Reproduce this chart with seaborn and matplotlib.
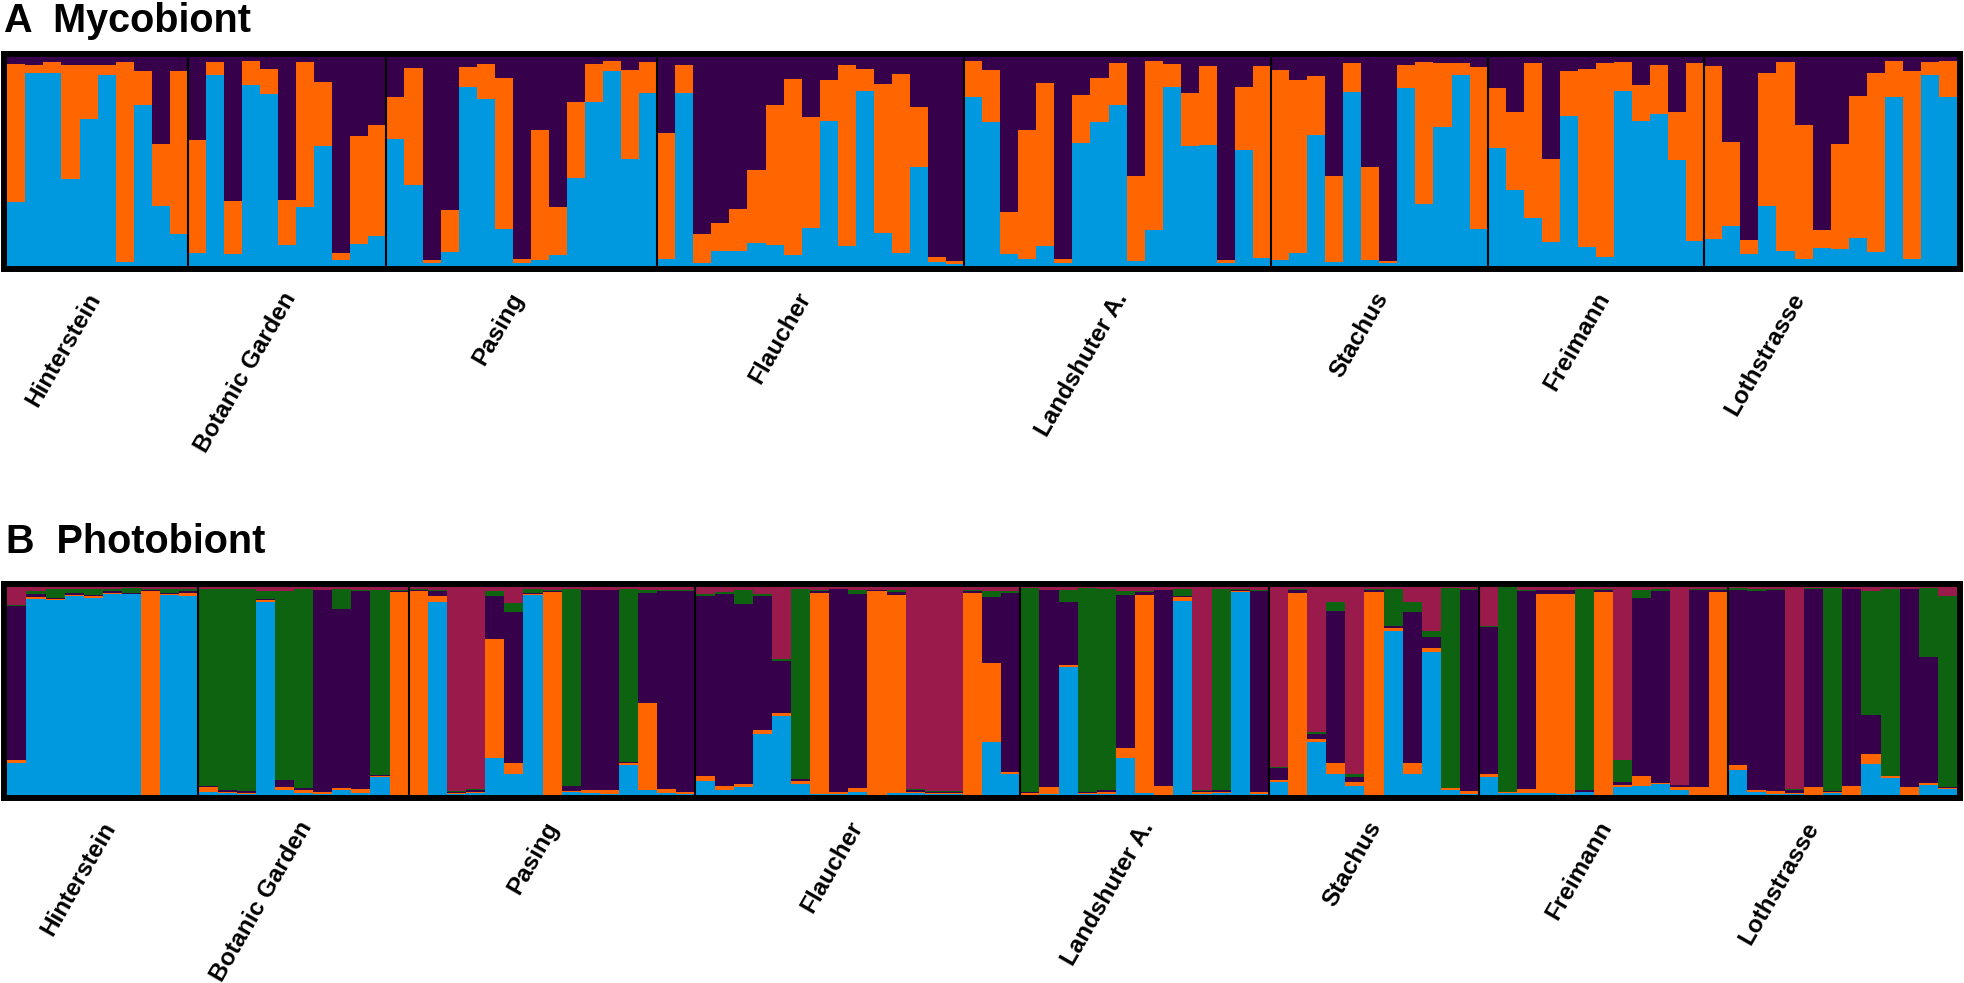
import numpy as np
import pandas as pd
import matplotlib
matplotlib.use("Agg")
import matplotlib.pyplot as plt
import seaborn as sns

# populations (same order in both panels)
populations = ["Hinterstein", "Botanic Garden", "Pasing", "Flaucher",
               "Landshuter A.", "Stachus", "Freimann", "Lothstrasse"]

# --- A: Mycobiont, K=3 (bottom -> top: blue, orange, purple)
myco_counts = [10, 11, 15, 17, 17, 12, 12, 14]
myco_blue = [
    .307, .923, .923, .417, .703, .912, .020, .772, .289, .155,
    .064, .914, .058, .866, .824, .102, .283, .572, .027, .105, .144,
    .610, .387, .013, .067, .855, .800, .176, .016, .027, .051, .423, .783, .933, .513, .827,
    .034, .827, .016, .073, .073, .109, .100, .054, .184, .695, .096, .839, .160, .061, .473, .019, .011,
    .808, .687, .059, .035, .097, .016, .588, .687, .768, .022, .174, .855, .572, .577, .013, .553, .038,
    .029, .062, .625, .021, .831, .027, .013, .853, .296, .665, .912, .176,
    .565, .366, .232, .115, .720, .089, .045, .837, .692, .728, .508, .118,
    .128, .193, .059, .289, .073, .034, .086, .081, .133, .069, .807, .035, .915, .808]
myco_orange = [
    .660, .040, .053, .545, .260, .050, .955, .160, .297, .776,
    .537, .062, .252, .113, .118, .213, .693, .307, .035, .516, .533,
    .200, .559, .014, .201, .097, .165, .723, .018, .623, .230, .360, .184, .046, .425, .148,
    .600, .133, .137, .134, .200, .348, .668, .839, .527, .193, .864, .104, .709, .860, .286, .026, .014,
    .174, .252, .201, .618, .777, .018, .228, .212, .205, .407, .805, .112, .256, .382, .014, .303, .920,
    .907, .830, .286, .412, .142, .449, .013, .109, .681, .305, .059, .778,
    .288, .372, .738, .399, .213, .856, .925, .141, .176, .232, .228, .853,
    .829, .399, .067, .633, .903, .639, .085, .502, .679, .855, .174, .900, .061, .174]
myco_purple = [
    .033, .037, .024, .038, .037, .038, .025, .068, .414, .069,
    .399, .024, .690, .021, .058, .685, .024, .121, .938, .379, .323,
    .190, .054, .973, .732, .048, .035, .101, .966, .350, .719, .217, .033, .021, .062, .025,
    .366, .040, .847, .793, .727, .543, .232, .107, .289, .112, .040, .057, .131, .079, .241, .955, .975,
    .018, .061, .740, .347, .126, .966, .184, .101, .027, .571, .021, .033, .172, .041, .973, .144, .042,
    .064, .108, .089, .567, .027, .524, .974, .038, .023, .030, .029, .046,
    .147, .262, .030, .486, .067, .055, .030, .022, .132, .040, .264, .029,
    .043, .408, .874, .078, .024, .327, .829, .417, .188, .076, .019, .065, .024, .018]

# --- B: Photobiont, K=5 (bottom -> top: blue, orange, purple, green, magenta)
photo_counts = [10, 11, 15, 17, 13, 11, 13, 12]
photo_blue = [
    .155, .941, .936, .955, .947, .965, .965, .000, .960, .958,
    .013, .010, .006, .926, .022, .011, .005, .022, .010, .085, .000,
    .000, .928, .003, .008, .179, .101, .960, .000, .014, .008, .006, .160, .022, .008, .004,
    .069, .026, .037, .293, .379, .053, .003, .005, .014, .002, .010, .010, .005, .005, .000, .254, .101,
    .002, .003, .614, .005, .006, .178, .010, .002, .934, .005, .011, .976, .005,
    .064, .000, .257, .103, .045, .000, .790, .103, .687, .024, .005,
    .087, .008, .008, .008, .005, .013, .000, .037, .045, .051, .024, .000, .000,
    .122, .014, .005, .005, .000, .008, .000, .149, .083, .000, .048, .029]
photo_orange = [
    .013, .011, .006, .008, .008, .006, .002, .981, .006, .013,
    .026, .006, .006, .011, .016, .011, .008, .011, .019, .005, .976,
    .982, .030, .008, .008, .573, .054, .008, .974, .006, .014, .016, .008, .421, .019, .012,
    .024, .019, .014, .019, .014, .013, .968, .008, .019, .979, .952, .006, .006, .006, .971, .382, .011,
    .006, .034, .011, .005, .010, .046, .952, .040, .016, .008, .005, .005, .010,
    .008, .973, .011, .053, .019, .976, .013, .053, .018, .008, .013,
    .013, .005, .021, .960, .963, .003, .976, .011, .048, .006, .016, .039, .977,
    .021, .010, .013, .005, .039, .005, .042, .048, .006, .039, .008, .006]
photo_purple = [
    .739, .016, .003, .008, .005, .008, .005, .006, .006, .008,
    .006, .006, .006, .006, .032, .010, .971, .859, .952, .006, .006,
    .005, .022, .005, .006, .205, .723, .005, .008, .022, .962, .962, .006, .530, .952, .966,
    .875, .920, .866, .645, .250, .011, .011, .976, .933, .003, .016, .006, .005, .005, .010, .318, .858,
    .005, .947, .301, .006, .006, .739, .016, .942, .005, .005, .006, .006, .966,
    .056, .013, .027, .728, .024, .011, .008, .725, .055, .003, .968,
    .706, .003, .953, .016, .016, .006, .011, .016, .853, .921, .006, .947, .010,
    .841, .955, .968, .013, .952, .006, .947, .188, .003, .949, .607, .003]
photo_green = [
    .008, .011, .045, .019, .029, .010, .021, .003, .016, .013,
    .947, .970, .974, .040, .910, .958, .002, .096, .003, .890, .002,
    .003, .005, .003, .008, .024, .045, .019, .003, .947, .002, .002, .918, .011, .005, .003,
    .011, .013, .070, .011, .011, .912, .003, .002, .019, .003, .006, .006, .003, .003, .005, .026, .011,
    .982, .003, .061, .979, .970, .018, .005, .003, .034, .006, .970, .002, .005,
    .005, .003, .008, .045, .011, .005, .181, .045, .030, .958, .005,
    .005, .982, .005, .003, .003, .970, .003, .104, .037, .010, .003, .005, .003,
    .010, .010, .006, .006, .003, .974, .003, .597, .899, .003, .330, .920]
photo_magenta = [
    .085, .021, .010, .010, .011, .011, .007, .010, .012, .008,
    .008, .008, .008, .017, .020, .010, .014, .012, .016, .014, .016,
    .010, .015, .981, .970, .019, .077, .008, .015, .011, .014, .014, .008, .016, .016, .015,
    .032, .022, .013, .032, .346, .011, .015, .009, .014, .013, .016, .972, .981, .981, .014, .020, .019,
    .005, .013, .013, .005, .008, .019, .017, .013, .011, .976, .008, .011, .014,
    .867, .011, .697, .071, .901, .008, .008, .074, .210, .005, .010,
    .188, .002, .013, .013, .013, .008, .010, .832, .016, .011, .951, .010, .010,
    .006, .011, .008, .971, .006, .006, .008, .018, .009, .009, .007, .042]

# décalage des étiquettes (en barres) par rapport au centre de la population
myco_label_shift = [0.45, 0.75, 0.35, 0.25, 0.85, 0.75, 1.05, -1.15]
photo_label_shift = [0.9, 0.7, 0.6, 0.5, 0.7, 0.6, 0.7, -1.0]

cluster_colors = {"blue": "#0099E0", "orange": "#FF6600", "purple": "#36004A",
                  "green": "#0D6310", "magenta": "#9A1A4C"}


def long_table(series):
    """Tableau long (individu, cluster, q) normalisé par individu."""
    wide = pd.DataFrame(series)
    wide = wide.div(wide.sum(axis=1), axis=0)
    wide["ind"] = np.arange(len(wide))
    return wide.melt(id_vars="ind", var_name="cluster", value_name="q")


def structure_panel(ax, series, counts, top_to_bottom, ypad, shifts):
    data = long_table(series)
    n = sum(counts)
    sns.histplot(data=data, x="ind", weights="q", hue="cluster",
                 hue_order=top_to_bottom, palette=cluster_colors,
                 multiple="stack", discrete=True, shrink=1, alpha=1,
                 edgecolor="none", linewidth=0, legend=False, ax=ax)
    starts = np.cumsum([0] + counts[:-1])
    for b in np.cumsum(counts)[:-1]:
        ax.axvline(b - 0.5, color="black", lw=1.5, zorder=5)
    # marge pour l'épaisseur du cadre
    px = (1960 - 4.2) / n
    ax.set_xlim(-0.5 - 3.1 / px, n - 0.5 + 3.0 / px)
    ax.set_ylim(ypad[0], ypad[1])
    ax.set_xticks([s - 0.5 + c / 2 + d for s, c, d in zip(starts, counts, shifts)])
    ax.set_xticklabels(populations, rotation=60, ha="right",
                       fontsize=17.5, fontweight="bold", color="black")
    ax.tick_params(axis="x", length=0, pad=14)
    ax.set_yticks([])
    ax.set_xlabel("")
    ax.set_ylabel("")
    for sp in ax.spines.values():
        sp.set_visible(True)
        sp.set_color("black")
        sp.set_linewidth(4.3)
        sp.set_zorder(10)


sns.set_style("white")
plt.rcParams["font.family"] = ["Liberation Sans", "DejaVu Sans"]
plt.rcParams["text.color"] = "black"

W, H = 1965, 983
fig = plt.figure(figsize=(W / 100, H / 100), dpi=100)

ax_a = fig.add_axes([4.2 / W, (H - 269) / H, (1960 - 4.2) / W, (269 - 54.5) / H])
ax_b = fig.add_axes([4.2 / W, (H - 798) / H, (1960 - 4.2) / W, (798 - 583.5) / H])

structure_panel(ax_a,
                {"blue": myco_blue, "orange": myco_orange, "purple": myco_purple},
                myco_counts, ["purple", "orange", "blue"], (-0.0144, 1.012),
                myco_label_shift)
structure_panel(ax_b,
                {"blue": photo_blue, "orange": photo_orange, "purple": photo_purple,
                 "green": photo_green, "magenta": photo_magenta},
                photo_counts, ["magenta", "green", "purple", "orange", "blue"],
                (-0.0144, 1.0168), photo_label_shift)

fig.text(4 / W, 1 - 32 / H, "A  Mycobiont", fontsize=28.5, fontweight="bold",
         ha="left", va="baseline", color="black")
fig.text(6 / W, 1 - 553 / H, "B  Photobiont", fontsize=28.5, fontweight="bold",
         ha="left", va="baseline", color="black")

fig.savefig("out.png", dpi=100)
